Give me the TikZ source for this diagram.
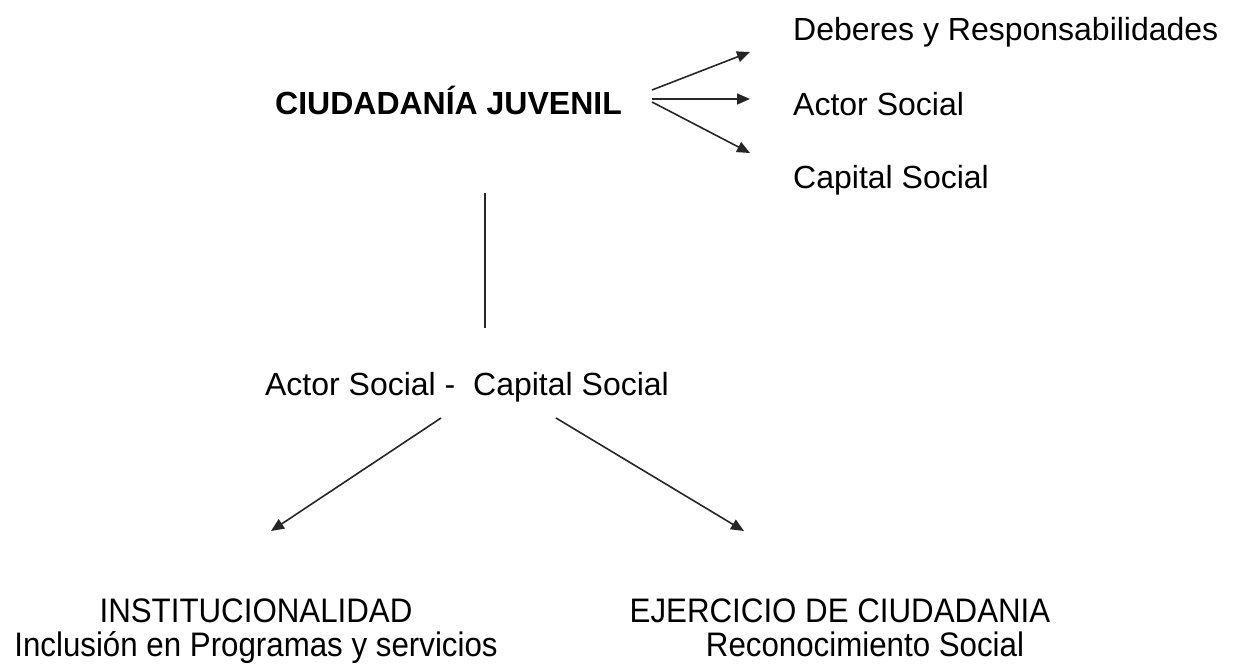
\documentclass[tikz,border=0pt]{standalone}
\usepackage{fontspec}
\setmainfont{Liberation Sans}
\newfontfamily\narrowfont[FakeStretch=0.92]{Liberation Sans}
\usetikzlibrary{arrows.meta}
\begin{document}
\begin{tikzpicture}[x=1pt,y=-1pt,
  lbl/.style={inner sep=0pt,font=\fontsize{32}{38}\selectfont},
  ttl/.style={inner sep=0pt,font=\fontsize{32}{38}\selectfont\bfseries},
  nar/.style={inner sep=0pt,anchor=base,font=\fontsize{34}{38}\selectfont\narrowfont},
  conn/.style={line width=1.6pt,black!85},
  arr/.style={conn,-{Triangle[length=13pt,width=11pt]}}]
\useasboundingbox (0,0) rectangle (1233,667);
\node[ttl,anchor=west] (cj) at (275,100) {CIUDADANÍA JUVENIL};
\node[lbl,anchor=west] (dr) at (793,32) {Deberes y Responsabilidades};
\node[lbl,anchor=west] (as) at (793,104) {Actor Social};
\node[lbl,anchor=west] (cs) at (793,180) {Capital Social};
\node[lbl] (mid) at (467,387) {Actor Social -\ \ Capital Social};
\node[nar] (inst) at (256,622) {INSTITUCIONALIDAD};
\node[nar] (incl) at (256,656) {Inclusión en Programas y servicios};
\node[nar] (ejer) at (840,622) {EJERCICIO DE CIUDADANIA};
\node[nar] (reco) at (865,656) {Reconocimiento Social};
\coordinate (o1) at (652,90);
\coordinate (o2) at (652,99);
\coordinate (o3) at (652,102);
\coordinate (t1) at (750,52);
\coordinate (t2) at (750,99);
\coordinate (t3) at (750,153);
\draw[arr] (o1) -- (t1);
\draw[arr] (o2) -- (t2);
\draw[arr] (o3) -- (t3);
\coordinate (v1) at (485,193);
\coordinate (v2) at (485,328);
\draw[conn] (v1) -- (v2);
\coordinate (l1) at (441,418);
\coordinate (l2) at (271,531);
\coordinate (r1) at (556,418);
\coordinate (r2) at (744,531);
\draw[arr] (l1) -- (l2);
\draw[arr] (r1) -- (r2);
\end{tikzpicture}
\end{document}
